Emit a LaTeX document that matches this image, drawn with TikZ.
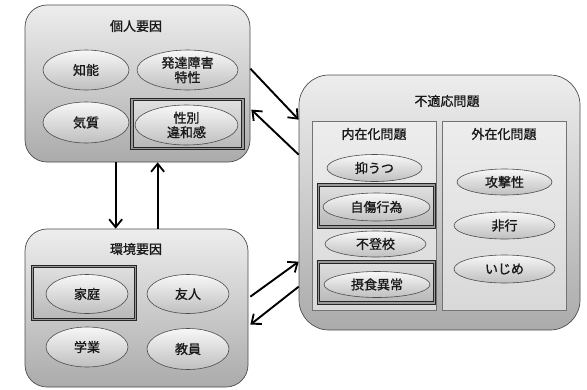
\documentclass[tikz,border=0pt]{standalone}
\usepackage{fontspec}
\newfontfamily\jp[FakeBold=1.2]{Noto Sans CJK JP}
\usetikzlibrary{shapes.geometric,arrows.meta,calc}
\tikzset{
  txt/.style={font=\jp\fontsize{13}{14.5}\selectfont, text=black!90, align=center},
  bigbox/.style={draw=black!70, line width=0.7pt, top color=black!7, bottom color=black!33, inner sep=0pt},
  subbox/.style={draw=black!55, line width=0.6pt, top color=black!7, bottom color=black!15, inner sep=0pt},
  oval/.style={ellipse, draw=black!70, line width=0.6pt, top color=black!3, bottom color=black!25, inner sep=0pt, txt},
  dframe/.style={draw=black!85, line width=0.9pt, double=black!40, double distance=1.4pt, top color=black!12, bottom color=black!28, inner sep=0pt},
  arr/.style={line width=1.9pt, -{Straight Barb[length=8pt,width=13pt,line width=1.8pt]}}
}
\begin{document}
\begin{tikzpicture}[x=1pt,y=-1pt]
\useasboundingbox (0,0) rectangle (587,389);
% outer boxes
\node[bigbox, rounded corners=22pt, minimum width=225pt, minimum height=157pt] (P) at (137.5,83.5) {};
\node[bigbox, rounded corners=22pt, minimum width=223pt, minimum height=158pt] (E) at (136.5,308) {};
\node[bigbox, rounded corners=30pt, minimum width=281pt, minimum height=255pt] (Q) at (439.5,202.5) {};
% titles
\node[txt] (Pt) at (136,26) {個人要因};
\node[txt] (Et) at (136,249) {環境要因};
\node[txt] (Qt) at (447,101) {不適応問題};
% sub boxes
\node[subbox, minimum width=124pt, minimum height=189pt] (I) at (374,215.5) {};
\node[subbox, minimum width=124pt, minimum height=189pt] (X) at (504,215.5) {};
\node[txt] (It) at (374,134) {内在化問題};
\node[txt] (Xt) at (504,134) {外在化問題};
% frames
\node[dframe, minimum width=111pt, minimum height=49pt] (F1) at (187.5,124) {};
\node[dframe, minimum width=103pt, minimum height=53pt] (F2) at (84,293) {};
\node[dframe, minimum width=116pt, minimum height=42pt] (F3) at (376.5,206) {};
\node[dframe, minimum width=116pt, minimum height=41pt] (F4) at (376.5,282.5) {};
% personal ellipses
\node[oval, minimum width=86pt, minimum height=40pt] (p1) at (86,70) {知能};
\node[oval, minimum width=101pt, minimum height=40pt] (p2) at (187.5,70) {発達障害\\特性};
\node[oval, minimum width=86pt, minimum height=41pt] (p3) at (86,122.5) {気質};
\node[oval, minimum width=103pt, minimum height=40pt] (p4) at (186.5,125) {性別\\違和感};
% environment ellipses
\node[oval, minimum width=82pt, minimum height=39pt] (e1) at (87,294) {家庭};
\node[oval, minimum width=82pt, minimum height=39pt] (e2) at (188,294) {友人};
\node[oval, minimum width=82pt, minimum height=40pt] (e3) at (87,347) {学業};
\node[oval, minimum width=82pt, minimum height=41pt] (e4) at (188,349) {教員};
% internal ellipses
\node[oval, minimum width=95pt, minimum height=27pt] (i1) at (374.5,168) {抑うつ};
\node[oval, minimum width=107pt, minimum height=28pt] (i2) at (376.5,207) {自傷行為};
\node[oval, minimum width=101pt, minimum height=26pt] (i3) at (375.5,244) {不登校};
\node[oval, minimum width=106pt, minimum height=26pt] (i4) at (377,284.5) {摂食異常};
% external ellipses
\node[oval, minimum width=95pt, minimum height=26pt] (x1) at (504.5,182) {攻撃性};
\node[oval, minimum width=101pt, minimum height=27pt] (x2) at (504.5,225.5) {非行};
\node[oval, minimum width=101pt, minimum height=28pt] (x3) at (504.5,269) {いじめ};
% arrows
\draw[arr] ($(P.north east)+(0,64)$) -- ($(Q.north west)+(0,45)$);
\draw[arr] ($(Q.north west)+(0,80)$) -- ($(P.north east)+(1,105)$);
\draw[arr] ($(P.south west)+(91,0)$) -- ($(E.north west)+(91,0)$);
\draw[arr] ($(E.north west)+(133,0)$) -- ($(P.south west)+(133,0)$);
\draw[arr] ($(E.north east)+(2,68)$) -- ($(Q.north west)+(0,187)$);
\draw[arr] ($(Q.north west)+(0,212)$) -- ($(E.north east)+(2,96)$);
\end{tikzpicture}
\end{document}
